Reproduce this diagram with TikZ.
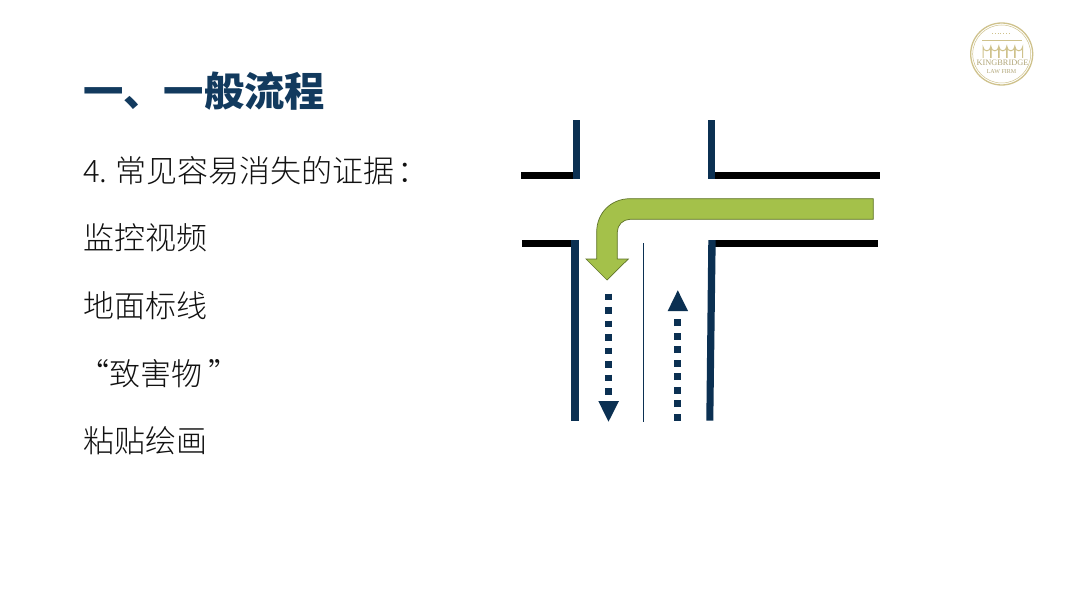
\documentclass[tikz,border=0pt]{standalone}
\usepackage{fontspec}
\newfontfamily\cjktitle{Noto Sans CJK SC Black}
\newfontfamily\cjkbody{Noto Sans CJK SC Light}
\newfontfamily\logofont{Liberation Serif}
\definecolor{navy}{HTML}{0B3052}
\definecolor{titleblue}{HTML}{123A5E}
\definecolor{bodyink}{HTML}{111111}
\definecolor{arrowgreen}{HTML}{A4C14A}
\definecolor{arrowedge}{HTML}{5F7328}
\definecolor{gold}{HTML}{CFC28C}
\tikzset{
  x=1pt,y=-1pt,
  bodytext/.style={anchor=west,inner sep=0pt,text=bodyink,font=\cjkbody\fontsize{31}{31}\selectfont},
  titletext/.style={anchor=west,inner sep=0pt,text=titleblue,font=\cjktitle\fontsize{40.3}{40.3}\selectfont},
  blackbar/.style={fill=black,draw=none},
  navybar/.style={fill=navy,draw=none},
  dotline/.style={draw=navy,line width=7pt,dash pattern=on 6.8pt off 6.7pt},
  logotext/.style={inner sep=0pt,text=gold!85!black,font=\logofont},
  logoline/.style={draw=gold,line width=1pt},
}
\begin{document}
\begin{tikzpicture}
\useasboundingbox[fill=white] (0,0) rectangle (1080,607);
% texts
\node[titletext] (title) at (83,91) {一、一般流程};
\node[bodytext] (t1) at (83,171) {4.\hspace{8pt}常见容易消失的证据\hspace{3pt}：};
\node[bodytext] (t2) at (83,238) {监控视频};
\node[bodytext] (t3) at (83,306) {地面标线};
\node[bodytext] (t4) at (78,374) {“致害物\hspace{6pt}”};
\node[bodytext] (t5) at (83,441) {粘贴绘画};
% road edges
\fill[blackbar] (520.7,172.3) rectangle (575,179.3);
\fill[blackbar] (713,172.3) rectangle (880,179.3);
\fill[blackbar] (522,240) rectangle (578,246.5);
\fill[blackbar] (712,240) rectangle (878,246.5);
\fill[navybar] (573,120) rectangle (580.3,179.3);
\fill[navybar] (708,120) rectangle (715.3,179.3);
\fill[navybar] (571,240) rectangle (578.5,420.7);
\fill[navybar] (708.3,240) -- (715.7,240) -- (713.3,420.7) -- (706.3,420.7) -- cycle;
\draw[navy,line width=0.9pt] (643.3,243) -- (643.3,421.7);
% green arrow
\draw[fill=arrowgreen,draw=arrowedge,line width=0.7pt]
  (873.3,198.7) -- (630,198.7)
  .. controls (611,198.7) and (596.7,213) .. (596.7,232)
  -- (596.7,259) -- (586,259) -- (607,280) -- (628.3,259) -- (617.3,259) -- (617.3,232)
  .. controls (617.3,225) and (623,219.3) .. (630,219.3)
  -- (873.3,219.3) -- cycle;
% dotted arrows
\coordinate (da) at (608.7,293.5);
\coordinate (db) at (608.7,398);
\coordinate (ua) at (677.8,420.5);
\coordinate (ub) at (677.8,316);
\draw[dotline] (da) -- (db);
\draw[dotline] (ua) -- (ub);
\fill[navy] (598.3,401) -- (619,401) -- (608.5,421.7) -- cycle;
\fill[navy] (667.7,311) -- (688,311) -- (677.8,290.3) -- cycle;
% logo
\draw[gold,line width=1.3pt] (1001.7,54) circle (31);
\draw[gold,line width=0.5pt] (1001.7,54) circle (29);
\draw[logoline] (982,41) -- (1022,41);
\draw[gold,line width=0.8pt,dotted] (992,33) -- (1011,33);
\foreach \xa in {983,991,999,1007,1015}{
  \draw[logoline] (\xa,58) -- (\xa,47) arc[start angle=180,end angle=0,radius=3.8] -- (\xa+7.6,58);
}
\node[logotext,font=\logofont\fontsize{8.3}{8.3}\selectfont] (logo1) at (1002.5,62.5) {KINGBRIDGE};
\node[logotext,font=\logofont\fontsize{6}{6}\selectfont] (logo2) at (1001.5,72) {LAW FIRM};
\end{tikzpicture}
\end{document}
